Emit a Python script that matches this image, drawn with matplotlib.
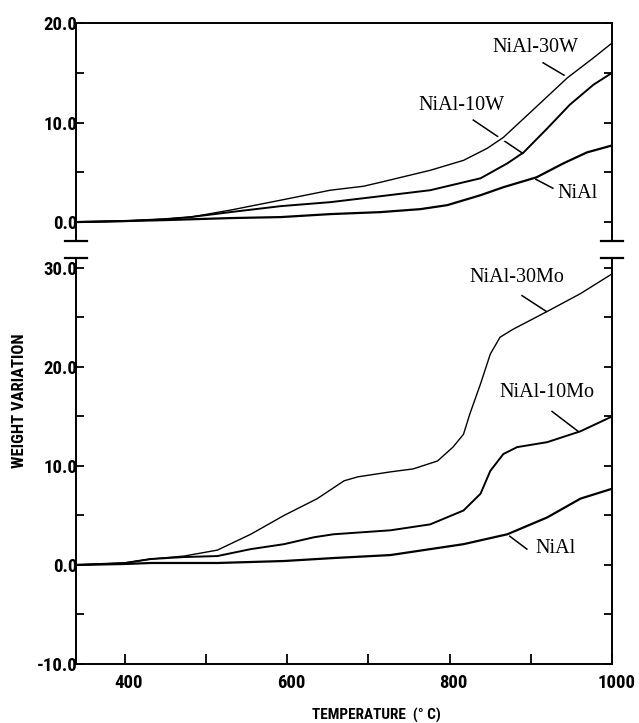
import matplotlib
matplotlib.use('Agg')
import matplotlib.pyplot as plt
import matplotlib.patheffects as pe
from matplotlib import font_manager
from matplotlib.ticker import FixedLocator, FormatStrFormatter
from matplotlib.transforms import ScaledTranslation

# ---------------- data ----------------
# upper panel: W additions
T_30W = [340, 400, 450, 481, 530, 592, 653, 694, 715, 776, 817, 846, 866, 899, 945, 977, 1000]
V_30W = [0.0, 0.1, 0.3, 0.5, 1.2, 2.2, 3.2, 3.6, 4.0, 5.2, 6.2, 7.4, 8.5, 11.0, 14.5, 16.5, 18.0]

T_10W = [340, 400, 450, 481, 530, 592, 653, 715, 776, 838, 871, 891, 920, 948, 977, 1000]
V_10W = [0.0, 0.1, 0.3, 0.5, 1.0, 1.6, 2.0, 2.6, 3.2, 4.4, 5.9, 7.0, 9.4, 11.8, 13.8, 15.0]

T_NiAl_top = [340, 400, 450, 530, 592, 653, 715, 764, 797, 838, 866, 907, 940, 969, 1000]
V_NiAl_top = [0.0, 0.1, 0.2, 0.4, 0.5, 0.8, 1.0, 1.3, 1.7, 2.7, 3.5, 4.5, 5.9, 7.0, 7.7]

# lower panel: Mo additions
T_30Mo = [340, 400, 432, 473, 514, 555, 596, 637, 670, 687, 727, 755, 785, 804, 817, 825, 838, 850, 862, 878, 920, 961, 1000]
V_30Mo = [0.0, 0.2, 0.6, 0.9, 1.5, 3.1, 5.0, 6.7, 8.5, 8.9, 9.4, 9.7, 10.5, 11.9, 13.2, 15.3, 18.3, 21.3, 23.0, 23.8, 25.6, 27.4, 29.4]

T_10Mo = [340, 400, 432, 473, 514, 555, 596, 633, 657, 727, 776, 817, 838, 850, 866, 883, 920, 961, 1000]
V_10Mo = [0.0, 0.2, 0.6, 0.8, 0.9, 1.6, 2.1, 2.8, 3.1, 3.5, 4.1, 5.5, 7.2, 9.5, 11.2, 11.9, 12.4, 13.5, 15.0]

T_NiAl_bot = [340, 400, 432, 514, 596, 657, 727, 776, 817, 871, 920, 961, 1000]
V_NiAl_bot = [0.0, 0.1, 0.2, 0.2, 0.4, 0.7, 1.0, 1.6, 2.1, 3.1, 4.8, 6.7, 7.7]

# axis ticks / labels
X_MAJOR = [400, 600, 800, 1000]
X_MINOR = [500, 700, 900]
Y_TOP_MAJOR = [0, 10, 20]
Y_TOP_MINOR = [5, 15]
Y_BOT_MAJOR = [-10, 0, 10, 20, 30]
Y_BOT_MINOR = [-5, 5, 15, 25]
XLABEL = 'TEMPERATURE  (° C)'
YLABEL = 'WEIGHT VARIATION'

# curve labels: (text, text_x, text_y, leader_x0, leader_y0, leader_x1, leader_y1)
TOP_LABELS = [
    ('NiAl-30W', 906, 17.5, 915, 16.0, 946, 14.5),
    ('NiAl-10W', 814, 11.7, 829, 10.25, 890, 6.9),
    ('NiAl', 958, 2.9, 906, 4.3, 927, 3.4),
]
BOT_LABELS = [
    ('NiAl-30Mo', 883, 29.0, 889, 27.2, 919, 25.6),
    ('NiAl-10Mo', 920, 17.4, 926, 15.5, 958, 13.5),
    ('NiAl', 930, 1.7, 874, 2.9, 895, 1.6),
]

# ---------------- styling ----------------
def have(name):
    try:
        font_manager.findfont(font_manager.FontProperties(family=name),
                              fallback_to_default=False)
        return True
    except Exception:
        return False

if have('Roboto Condensed'):
    SANS, FS_TICK, FS_X, FS_Y = ['Roboto Condensed', 'DejaVu Sans'], 13.5, 11.0, 12.0
elif have('Liberation Sans Narrow'):
    SANS, FS_TICK, FS_X, FS_Y = ['Liberation Sans Narrow', 'DejaVu Sans'], 13.5, 12.0, 12.5
else:
    SANS, FS_TICK, FS_X, FS_Y = ['Roboto', 'Liberation Sans', 'DejaVu Sans'], 13.0, 10.0, 11.0

plt.rcParams['font.family'] = SANS
plt.rcParams['font.weight'] = 'bold'
plt.rcParams['axes.unicode_minus'] = False
plt.rcParams['axes.linewidth'] = 1.4

fig = plt.figure(figsize=(6.39, 7.23), dpi=100)
L, W = 0.119, 0.839
ax1 = fig.add_axes([L, 0.6667, W, 0.3015])
ax2 = fig.add_axes([L, 0.0816, W, 0.5616])

halo = [pe.Stroke(linewidth=5, foreground='white'), pe.Normal()]
ax1.plot(T_30W, V_30W, color='k', lw=1.0, zorder=2, path_effects=halo)
ax1.plot(T_10W, V_10W, color='k', lw=1.4, zorder=3)
ax1.plot(T_NiAl_top, V_NiAl_top, color='k', lw=1.6, zorder=3)

ax2.plot(T_30Mo, V_30Mo, color='k', lw=1.0, zorder=2)
ax2.plot(T_10Mo, V_10Mo, color='k', lw=1.4, zorder=3)
ax2.plot(T_NiAl_bot, V_NiAl_bot, color='k', lw=1.6, zorder=3)

for ax in (ax1, ax2):
    ax.set_xlim(340, 1000)
    ax.tick_params(axis='y', which='both', direction='in', left=True, right=True,
                   length=6, width=1.3, labelsize=FS_TICK, pad=-1)

ax1.set_ylim(-1.9, 20)
ax1.spines['bottom'].set_visible(False)
ax1.yaxis.set_major_locator(FixedLocator(Y_TOP_MAJOR))
ax1.yaxis.set_minor_locator(FixedLocator(Y_TOP_MINOR))
ax1.yaxis.set_major_formatter(FormatStrFormatter('%.1f'))
ax1.tick_params(axis='x', which='both', bottom=False, top=False, labelbottom=False)

ax2.set_ylim(-10, 31)
ax2.spines['top'].set_visible(False)
ax2.yaxis.set_major_locator(FixedLocator(Y_BOT_MAJOR))
ax2.yaxis.set_minor_locator(FixedLocator(Y_BOT_MINOR))
ax2.yaxis.set_major_formatter(FormatStrFormatter('%.1f'))
ax2.xaxis.set_major_locator(FixedLocator(X_MAJOR))
ax2.xaxis.set_minor_locator(FixedLocator(X_MINOR))
ax2.tick_params(axis='x', which='both', direction='in', top=False, length=7,
                width=1.3, labelsize=FS_TICK, pad=7)
shift = ScaledTranslation(4 / 100, 0, fig.dpi_scale_trans)
for lab in ax2.get_xticklabels():
    lab.set_transform(lab.get_transform() + shift)

# axis break marks
for xa in (0, 1):
    ax1.plot([xa - 0.02, xa + 0.02], [0, 0], transform=ax1.transAxes,
             color='k', lw=1.6, clip_on=False)
    ax2.plot([xa - 0.02, xa + 0.02], [1, 1], transform=ax2.transAxes,
             color='k', lw=1.6, clip_on=False)

# curve labels with leader lines
for ax, labels in ((ax1, TOP_LABELS), (ax2, BOT_LABELS)):
    for txt, tx, ty, x0, y0, x1, y1 in labels:
        ax.text(tx, ty, txt, family='Liberation Serif', fontweight='normal',
                fontsize=14.5, ha='center', va='center')
        ax.plot([x0, x1], [y0, y1], color='k', lw=1.1, zorder=1)

fig.text(376 / 639, 1 - 715 / 723, XLABEL, ha='center', va='center', fontsize=FS_X)
fig.text(20 / 639, 1 - 401 / 723, YLABEL, ha='center', va='center', rotation=90,
         fontsize=FS_Y)

fig.savefig('out.png', dpi=100)
